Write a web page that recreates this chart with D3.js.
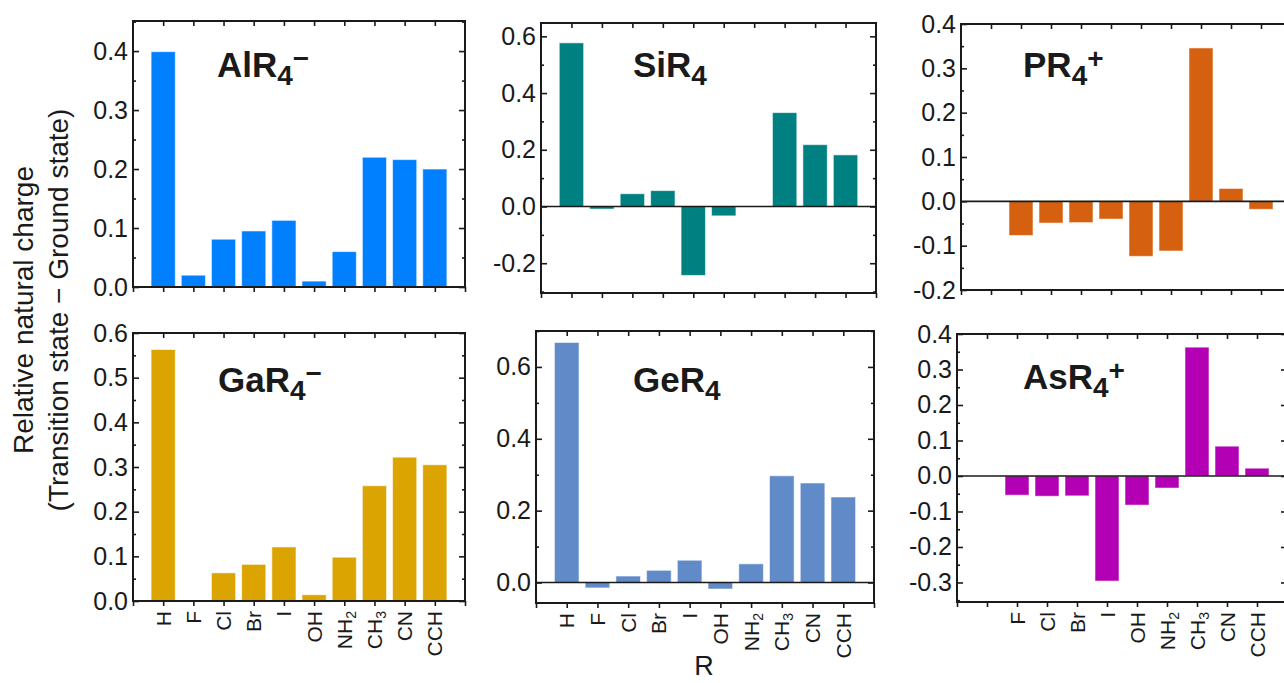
<!DOCTYPE html>
<html>
<head>
<meta charset="utf-8">
<script src="https://cdn.jsdelivr.net/npm/d3@7"></script>
<style>
  html, body { margin: 0; padding: 0; background: #fff; }
  svg { display: block; }
  text { font-family: "Liberation Sans", Arial, "Helvetica", sans-serif; fill: #1a1a1a; }
</style>
</head>
<body>
<script>
// Substituent groups R on the central atom (x categories)
const categories = ["H", "F", "Cl", "Br", "I", "OH", "NH2", "CH3", "CN", "CCH"];

// Relative natural charge (transition state − ground state) per substituent
const alR4Values = [0.399, 0.020, 0.081, 0.095, 0.113, 0.010, 0.060, 0.220, 0.216, 0.200];
const siR4Values = [0.577, -0.009, 0.045, 0.056, -0.243, -0.033, 0, 0.331, 0.218, 0.182];
const pR4Values  = [null, -0.077, -0.049, -0.048, -0.040, -0.124, -0.112, 0.346, 0.029, -0.018];
const gaR4Values = [0.563, 0, 0.063, 0.082, 0.121, 0.014, 0.098, 0.258, 0.322, 0.305];
const geR4Values = [0.668, -0.015, 0.018, 0.034, 0.062, -0.018, 0.052, 0.297, 0.277, 0.238];
const asR4Values = [null, -0.054, -0.057, -0.056, -0.296, -0.082, -0.034, 0.363, 0.084, 0.022];

// Major tick values for each panel's y axis
const alR4Ticks = [0.0, 0.1, 0.2, 0.3, 0.4];
const siR4Ticks = [-0.2, 0.0, 0.2, 0.4, 0.6];
const pR4Ticks  = [-0.2, -0.1, 0.0, 0.1, 0.2, 0.3, 0.4];
const gaR4Ticks = [0.0, 0.1, 0.2, 0.3, 0.4, 0.5, 0.6];
const geR4Ticks = [0.0, 0.2, 0.4, 0.6];
const asR4Ticks = [-0.3, -0.2, -0.1, 0.0, 0.1, 0.2, 0.3, 0.4];

// Panel titles: element, subscript, charge
const titles = [
  ["Al", "4", "−"], ["Si", "4", ""], ["P", "4", "+"],
  ["Ga", "4", "−"], ["Ge", "4", ""], ["As", "4", "+"]
];

const colors = ["#0080ff", "#008080", "#d5600f", "#dca400", "#608ac8", "#b400b4"];

// Panel geometry and axis ranges
const panels = [
  { values: alR4Values, ticks: alR4Ticks, yDomain: [0, 0.451],     box: [133, 21, 465, 287],   title: [217, 77],  labels: false },
  { values: siR4Values, ticks: siR4Ticks, yDomain: [-0.305, 0.647], box: [541, 23, 876, 293],  title: [633, 77],  labels: false },
  { values: pR4Values,  ticks: pR4Ticks,  yDomain: [-0.2, 0.4],     box: [961, 24, 1291, 290], title: [1023, 77], labels: false },
  { values: gaR4Values, ticks: gaR4Ticks, yDomain: [0, 0.6],        box: [133, 333, 465, 601], title: [218, 392], labels: true },
  { values: geR4Values, ticks: geR4Ticks, yDomain: [-0.057, 0.7],   box: [536, 331, 874, 603], title: [633, 392], labels: true },
  { values: asR4Values, ticks: asR4Ticks, yDomain: [-0.355, 0.4],   box: [957, 334, 1287, 602], title: [1023, 389], labels: true }
];

const W = 1284, H = 683;
const svg = d3.select("body").append("svg").attr("width", W).attr("height", H);

const fmt = v => (Math.round(v * 10) / 10 + 0).toFixed(1);

function minorTicks(major, domain) {
  const step = major[1] - major[0];
  const out = [];
  for (let i = 0; i < major.length - 1; i++) out.push((major[i] + major[i + 1]) / 2);
  const lo = major[0] - step / 2, hi = major[major.length - 1] + step / 2;
  if (lo >= domain[0] - 1e-9) out.push(lo);
  if (hi <= domain[1] + 1e-9) out.push(hi);
  return out;
}

function styleAxis(sel, fontSize) {
  sel.select(".domain").remove();
  sel.selectAll("line").attr("stroke", "#1a1a1a").attr("stroke-width", 1.6);
  sel.selectAll("text").attr("font-size", fontSize)
    .attr("font-family", '"Liberation Sans", Arial, sans-serif').attr("fill", "#1a1a1a");
}

panels.forEach((p, k) => {
  const [x0, y0, x1, y1] = p.box;
  const g = svg.append("g");
  const x = d3.scaleLinear().domain([0, 11]).range([x0, x1]);
  const y = d3.scaleLinear().domain(p.yDomain).range([y1, y0]);

  const items = p.values.map((v, i) => ({ v, i, c: categories[i] }));

  // Bars
  g.selectAll("rect.bar")
    .data(items.filter(d => d.v != null && d.v !== 0))
    .join("rect")
    .attr("class", "bar")
    .attr("x", d => x(d.i + 1 - 0.4))
    .attr("width", x(0.8) - x(0))
    .attr("y", d => y(Math.max(0, d.v)))
    .attr("height", d => Math.abs(y(d.v) - y(0)))
    .attr("fill", colors[k])
    .attr("stroke", "rgba(255,255,255,0.55)")
    .attr("stroke-width", 1);

  // Zero reference line
  if (p.yDomain[0] < 0) {
    g.append("line")
      .attr("x1", x0).attr("x2", x1)
      .attr("y1", y(0)).attr("y2", y(0))
      .attr("stroke", "#1a1a1a").attr("stroke-width", 1.6);
  }

  // Left axis: major (labelled) and minor ticks, pointing inward
  const left = g.append("g").attr("transform", `translate(${x0},0)`)
    .call(d3.axisLeft(y).tickValues(p.ticks).tickSize(-6).tickPadding(5).tickFormat(fmt));
  styleAxis(left, 25);
  const leftMinor = g.append("g").attr("transform", `translate(${x0},0)`)
    .call(d3.axisLeft(y).tickValues(minorTicks(p.ticks, p.yDomain)).tickSize(-3).tickFormat(""));
  styleAxis(leftMinor, 10);

  // Right axis mirror
  const right = g.append("g").attr("transform", `translate(${x1},0)`)
    .call(d3.axisRight(y).tickValues(p.ticks).tickSize(-6).tickFormat(""));
  styleAxis(right, 10);
  const rightMinor = g.append("g").attr("transform", `translate(${x1},0)`)
    .call(d3.axisRight(y).tickValues(minorTicks(p.ticks, p.yDomain)).tickSize(-3).tickFormat(""));
  styleAxis(rightMinor, 10);

  // Bottom axis ticks (outward) and top mirror ticks (inward)
  const bottom = g.append("g").attr("transform", `translate(0,${y1})`)
    .call(d3.axisBottom(x).tickValues(d3.range(0, 12)).tickSize(5).tickFormat(""));
  styleAxis(bottom, 10);
  const top = g.append("g").attr("transform", `translate(0,${y0})`)
    .call(d3.axisTop(x).tickValues(d3.range(1, 11)).tickSize(-5).tickFormat(""));
  styleAxis(top, 10);

  // Frame
  g.append("rect")
    .attr("x", x0).attr("y", y0)
    .attr("width", x1 - x0).attr("height", y1 - y0)
    .attr("fill", "none").attr("stroke", "#1a1a1a").attr("stroke-width", 2);

  // Category labels, rotated, with numeric subscripts
  if (p.labels) {
    const lab = g.selectAll("text.cat")
      .data(items.filter(d => d.v != null))
      .join("text")
      .attr("class", "cat")
      .attr("text-anchor", "end")
      .attr("font-size", 21)
      .attr("transform", d => `translate(${x(d.i + 1)},${y1 + 10}) rotate(-90)`)
      .attr("dy", "0.36em");
    lab.each(function (d) {
      const m = d.c.match(/^([A-Za-z]+)(\d*)$/);
      const t = d3.select(this);
      t.append("tspan").text(m[1]);
      if (m[2]) t.append("tspan").attr("font-size", 14).attr("dy", 4).text(m[2]);
    });
  }

  // Panel title
  const [el, sub, chg] = titles[k];
  const tt = g.append("text")
    .attr("x", p.title[0]).attr("y", p.title[1])
    .attr("font-size", 35).attr("font-weight", "bold");
  tt.append("tspan").text(el + "R");
  tt.append("tspan").attr("font-size", 28).attr("dy", 8).text(sub);
  if (chg) tt.append("tspan").attr("font-size", 28).attr("dy", -17).text(chg);
});

// Shared y-axis title
const yTitle = svg.append("text")
  .attr("transform", "translate(0,310) rotate(-90)")
  .attr("text-anchor", "middle")
  .attr("font-size", 28);
yTitle.append("tspan").attr("x", 0).attr("y", 33).text("Relative natural charge");
yTitle.append("tspan").attr("x", 0).attr("y", 68).text("(Transition state − Ground state)");

// Shared x-axis title
svg.append("text")
  .attr("x", 704).attr("y", 675)
  .attr("text-anchor", "middle")
  .attr("font-size", 27)
  .text("R");
</script>
</body>
</html>
